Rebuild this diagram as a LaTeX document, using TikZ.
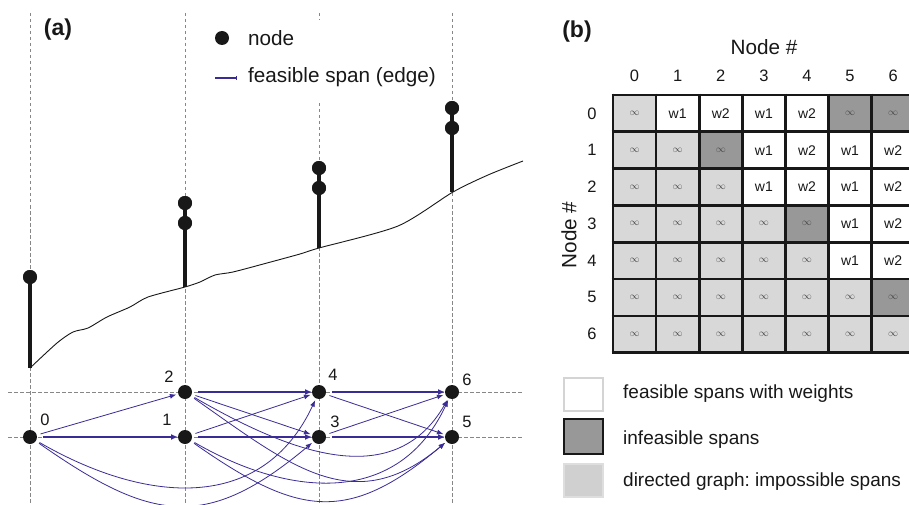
\documentclass[tikz,border=0pt]{standalone}
\usepackage{fontspec}
\setmainfont{Liberation Sans}
\usetikzlibrary{arrows.meta}
\frenchspacing
\definecolor{edgeblue}{RGB}{58,44,150}
\definecolor{lightcell}{RGB}{216,216,216}
\definecolor{darkcell}{RGB}{152,152,152}
\definecolor{ink}{RGB}{24,24,24}
\definecolor{guide}{RGB}{135,135,135}
\newcommand\celltextL{\raisebox{-2pt}{\fontsize{10}{10}\selectfont\color{ink!80}$\infty$}}
\newcommand\celltextD{\raisebox{-2pt}{\fontsize{10}{10}\selectfont\color{ink!80}$\infty$}}
\newcommand\celltexta{w1}
\newcommand\celltextb{w2}
\begin{document}
\begin{tikzpicture}[x=1pt,y=1pt,
  guideline/.style={draw=guide, line width=0.8pt, dash pattern=on 3.5pt off 2.5pt},
  gnode/.style={circle, fill=ink, minimum size=14pt, inner sep=0pt, outer sep=0pt},
  dotmark/.style={circle, fill=ink, minimum size=14pt, inner sep=0pt, outer sep=0pt},
  stem/.style={draw=ink, line width=3.4pt},
  hedge/.style={draw=edgeblue, line width=1.7pt, -{Latex[length=7pt,width=6pt]}, shorten <=6pt},
  sedge/.style={draw=edgeblue, line width=0.8pt, -{Latex[length=6.5pt,width=5pt]}, shorten <=4pt, shorten >=2pt},
  lbl/.style={font=\fontsize{16.5}{18}\selectfont, text=ink, inner sep=0pt},
  legtext/.style={font=\fontsize{20.7}{24}\selectfont, text=ink, inner sep=0pt, anchor=west},
  legbtext/.style={font=\fontsize{19}{22}\selectfont, text=ink, inner sep=0pt, anchor=west},
  cellbox/.style={minimum width=43.1pt, minimum height=36.8pt, inner sep=0pt, outer sep=0pt, anchor=north west, font=\fontsize{14}{16}\selectfont, text=ink},
  cellL/.style={fill=lightcell},
  cellD/.style={fill=darkcell},
  cella/.style={fill=white},
  cellb/.style={fill=white},
  gridline/.style={draw=ink, line width=2.6pt},
  title/.style={font=\fontsize{23}{26}\selectfont\bfseries, text=ink, inner sep=0pt}
]
\useasboundingbox (0,0) rectangle (909,504);
\fill[white] (0,0) rectangle (909,504);

% ---------------- (a) ----------------
\node[title] (ta) at (58,474) {(a)};

% guide lines
\foreach \gx in {30,185,319,452}{
  \draw[guideline] (\gx,491) -- (\gx,0);
}
\draw[guideline] (8,112) -- (523,112);
\draw[guideline] (8,67) -- (523,67);

% legend box (covers guides)
\fill[white] (200,402) rectangle (445,484);
\node[dotmark] (legdot) at (222,466) {};
\node[legtext] (legnode) at (248,466) {node};
\coordinate (legA) at (215,426);
\coordinate (legB) at (237,426);
\draw[edgeblue, line width=1.2pt, -{Bar[width=4pt,line width=0.8pt]}] (legA) -- (legB);
\node[legtext] (legedge) at (248,427) {feasible span (edge)};

% terrain curve
\draw[ink, line width=0.9pt] plot[smooth, tension=0.45] coordinates {
 (30,136) (57,161) (73,172) (88,176) (107,187) (130,197) (148,207) (185,217)
 (200,222) (215,229) (233,232) (267,241) (300,250) (319,256) (398,278)
 (453,312) (488,329) (523,343)};

% stems and upper dots
\coordinate (s0) at (30,136);
\coordinate (s1) at (185,217);
\coordinate (s2) at (319,256);
\coordinate (s3) at (452,312);
\node[dotmark] (u0) at (30,227) {};
\node[dotmark] (u1a) at (185,301) {};
\node[dotmark] (u1b) at (185,281) {};
\node[dotmark] (u2a) at (319,336) {};
\node[dotmark] (u2b) at (319,316) {};
\node[dotmark] (u3a) at (452,396) {};
\node[dotmark] (u3b) at (452,376) {};
\draw[stem] (u0.center) -- (s0);
\draw[stem] (u1a.center) -- (u1b.center) -- (s1);
\draw[stem] (u2a.center) -- (u2b.center) -- (s2);
\draw[stem] (u3a.center) -- (u3b.center) -- (s3);
\node[dotmark] at (30,227) {};
\node[dotmark] at (185,301) {};
\node[dotmark] at (185,281) {};
\node[dotmark] at (319,336) {};
\node[dotmark] at (319,316) {};
\node[dotmark] at (452,396) {};
\node[dotmark] at (452,376) {};

% graph nodes
\node[gnode] (n0) at (30,67) {};
\node[gnode] (n1) at (185,67) {};
\node[gnode] (n2) at (185,112) {};
\node[gnode] (n3) at (319,67) {};
\node[gnode] (n4) at (319,112) {};
\node[gnode] (n5) at (452,67) {};
\node[gnode] (n6) at (452,112) {};
\node[lbl] (l0) at (45,84) {0};
\node[lbl] (l1) at (167,84) {1};
\node[lbl] (l2) at (169,127) {2};
\node[lbl] (l3) at (335,82) {3};
\node[lbl] (l4) at (333,129) {4};
\node[lbl] (l5) at (467,82) {5};
\node[lbl] (l6) at (467,124) {6};

% edges
\draw[hedge] (n0) -- (n1);
\draw[hedge] (n1) -- (n3);
\draw[hedge] (n2) -- (n4);
\draw[hedge] (n3) -- (n5);
\draw[hedge] (n4) -- (n6);
\draw[sedge] (n0) -- (n2);
\draw[sedge] (n1) -- (n4);
\draw[sedge] (n2) -- (n3);
\draw[sedge] (n3) -- (n6);
\draw[sedge] (n4) -- (n5);
\draw[sedge] (n0) to[out=-35,in=-140,looseness=1.3] (n3);
\draw[sedge] (n0) to[out=-30,in=-115,looseness=1.15] (n4);
\draw[sedge] (n1) to[out=-35,in=-140,looseness=1.3] (n5);
\draw[sedge] (n1) to[out=-30,in=-115,looseness=1.15] (n6);
\draw[sedge] (n2) to[out=-35,in=-140,looseness=1.2] (n5);
\draw[sedge] (n2) to[out=-30,in=-120,looseness=1.1] (n6);

% ---------------- (b) ----------------
\node[title] (tb) at (577,472) {(b)};
\node[font=\fontsize{20.7}{24}\selectfont, text=ink, inner sep=0pt] (colhead) at (764,457) {Node \#};
\node[font=\fontsize{20.7}{24}\selectfont, text=ink, inner sep=0pt, rotate=90] (rowhead) at (569,269) {Node \#};

\foreach \c in {0,...,6}{
  \node[lbl] (h\c) at ({613+43.1*(\c+0.5)},428) {\c};
  \node[lbl] (r\c) at (592,{409-36.8*(\c+0.5)}) {\c};
}

\foreach \r/\row in {0/{L,a,b,a,b,D,D},1/{L,L,D,a,b,a,b},2/{L,L,L,a,b,a,b},3/{L,L,L,L,D,a,b},4/{L,L,L,L,L,a,b},5/{L,L,L,L,L,L,D},6/{L,L,L,L,L,L,L}}{
  \foreach \t [count=\c from 0] in \row {
    \node[cellbox, cell\t] (c\r\c) at ({613+43.1*\c},{409-36.8*\r}) {\csname celltext\t\endcsname};
  }
}
\foreach \i in {0,...,7}{
  \draw[gridline] ({613+43.1*\i},{409+1.3}) -- ({613+43.1*\i},{151.4-1.3});
  \draw[gridline] ({613-1.3},{409-36.8*\i}) -- (915,{409-36.8*\i});
}

% legend (b)
\node[draw={rgb,255:red,212;green,212;blue,212}, line width=2pt, fill=white, minimum width=39pt, minimum height=33pt, inner sep=0pt] (kw) at (583.5,109.5) {};
\node[draw=ink, line width=2pt, fill=darkcell, minimum width=39pt, minimum height=35pt, inner sep=0pt] (kd) at (583.5,67.5) {};
\node[draw={rgb,255:red,222;green,222;blue,222}, line width=2pt, fill={rgb,255:red,207;green,208;blue,207}, minimum width=39pt, minimum height=33pt, inner sep=0pt] (kl) at (583.5,23.5) {};
\node[legbtext] (kwt) at (623,110) {feasible spans with weights};
\node[legbtext] (kdt) at (623,64) {infeasible spans};
\node[legbtext] (klt) at (623,22) {directed graph: impossible spans};
\end{tikzpicture}
\end{document}
